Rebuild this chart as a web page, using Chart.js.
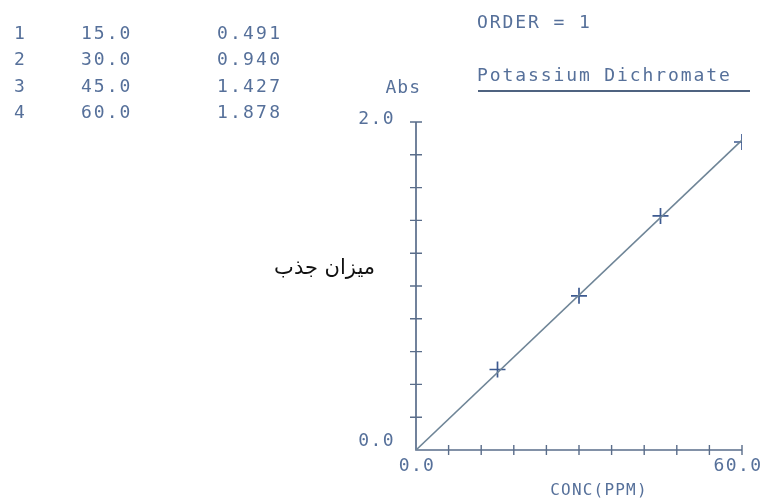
<!DOCTYPE html>
<html>
<head>
<meta charset="utf-8">
<title>Potassium Dichromate calibration</title>
<script src="https://cdn.jsdelivr.net/npm/chart.js@4/dist/chart.umd.min.js"></script>
<style>
  html, body { margin: 0; padding: 0; background: #ffffff; }
  #wrap { width: 767px; height: 503px; }
</style>
</head>
<body>
<div id="wrap"><canvas id="chart" width="767" height="503"></canvas></div>
<script>
// Standards: sample number, concentration (ppm) and measured absorbance
const sampleNumbers = ['1', '2', '3', '4'];
const concentrations = [15.0, 30.0, 45.0, 60.0];
const absorbances = [0.491, 0.940, 1.427, 1.878];

// Calibration line (first order, through the origin)
const fitConc = [0, 60];
const fitAbs = [0, 1.889];

// Axis ticks and the labelled ends
const xTickValues = [0, 6, 12, 18, 24, 30, 36, 42, 48, 54, 60];
const yTickValues = [0, 0.2, 0.4, 0.6, 0.8, 1.0, 1.2, 1.4, 1.6, 1.8, 2.0];
const xLabelValues = [0, 60];
const yLabelValues = [0, 2];

const TEXT = '#56709a';
const AXIS = '#5a6d8a';
const PLOT_FONT = '"DejaVu Sans Mono", monospace';

function drawText(ctx, str, x, y, opts) {
  ctx.save();
  ctx.font = opts.font;
  ctx.fillStyle = opts.color || TEXT;
  ctx.textAlign = opts.align || 'left';
  ctx.textBaseline = 'middle';
  if ('letterSpacing' in ctx) ctx.letterSpacing = (opts.spacing || 0) + 'px';
  ctx.fillText(str, x, y);
  ctx.restore();
}

const plotterAxes = {
  id: 'plotterAxes',
  beforeDatasetsDraw(chart) {
    const { ctx, scales: { x, y } } = chart;
    const x0 = x.getPixelForValue(0), x1 = x.getPixelForValue(60);
    const y0 = y.getPixelForValue(0), y1 = y.getPixelForValue(2);
    ctx.save();
    ctx.strokeStyle = AXIS;
    ctx.lineWidth = 1.7;
    ctx.beginPath();
    ctx.moveTo(x0, y1); ctx.lineTo(x0, y0); ctx.lineTo(x1, y0);
    ctx.stroke();
    ctx.lineWidth = 1.4;
    ctx.beginPath();
    xTickValues.forEach(v => {
      if (v === 0) return;
      const px = x.getPixelForValue(v);
      ctx.moveTo(px, y0 - 5); ctx.lineTo(px, y0 + 5);
    });
    yTickValues.forEach(v => {
      if (v === 0) return;
      const py = y.getPixelForValue(v);
      ctx.moveTo(x0 - 6, py); ctx.lineTo(x0 + 6, py);
    });
    ctx.stroke();
    ctx.restore();
  },
  afterDraw(chart) {
    const { ctx, scales: { x, y } } = chart;
    const x0 = x.getPixelForValue(0);
    const y0 = y.getPixelForValue(0);
    const f = '18px ' + PLOT_FONT;

    // axis end labels
    xLabelValues.forEach(v => {
      const px = x.getPixelForValue(v);
      drawText(ctx, v.toFixed(1), v === 0 ? px + 1 : px - 4, y0 + 16, { font: f, spacing: 1.4, align: 'center' });
    });
    yLabelValues.forEach(v => {
      const py = y.getPixelForValue(v);
      drawText(ctx, v.toFixed(1), x0 - 21, v === 0 ? py - 9 : py - 3, { font: f, spacing: 1.4, align: 'right' });
    });

    // axis titles
    drawText(ctx, 'Abs', x0 + 5, 88, { font: f, spacing: 1 , align: 'right' });
    drawText(ctx, 'CONC(PPM)', (x.getPixelForValue(0) + x.getPixelForValue(60)) / 2 + 20, 491,
             { font: '16px ' + PLOT_FONT, spacing: 1.2, align: 'center' });
    drawText(ctx, 'میزان جذب', 375, 269,
             { font: '21px "DejaVu Sans", sans-serif', color: '#111111', align: 'right' });

    // header
    drawText(ctx, 'ORDER = 1', 477, 23, { font: f, spacing: 1.9 });
    drawText(ctx, 'Potassium Dichromate', 477, 76, { font: f, spacing: 1.9 });
    ctx.save();
    ctx.strokeStyle = '#4f6380';
    ctx.lineWidth = 1.8;
    ctx.beginPath();
    ctx.moveTo(478, 91); ctx.lineTo(750, 91);
    ctx.stroke();
    ctx.restore();

    // data table
    sampleNumbers.forEach((n, i) => {
      const ty = 34 + i * 26.5;
      drawText(ctx, n, 14, ty, { font: f, spacing: 2 });
      drawText(ctx, concentrations[i].toFixed(1), 81, ty, { font: f, spacing: 2 });
      drawText(ctx, absorbances[i].toFixed(3), 217, ty, { font: f, spacing: 2.2 });
    });
  }
};

new Chart(document.getElementById('chart'), {
  type: 'scatter',
  data: {
    datasets: [
      {
        type: 'line',
        data: fitConc.map((c, i) => ({ x: c, y: fitAbs[i] })),
        borderColor: '#6f8597',
        borderWidth: 1.6,
        pointRadius: 0,
        fill: false,
        tension: 0
      },
      {
        data: concentrations.map((c, i) => ({ x: c, y: absorbances[i] })),
        pointStyle: 'cross',
        pointRadius: 8,
        borderColor: '#3d5a90',
        borderWidth: 1.7,
        showLine: false
      }
    ]
  },
  options: {
    responsive: false,
    animation: false,
    devicePixelRatio: 1,
    layout: { padding: { left: 416, right: 25, top: 122, bottom: 53 } },
    scales: {
      x: { type: 'linear', min: 0, max: 60, display: false },
      y: { type: 'linear', min: 0, max: 2, display: false }
    },
    plugins: { legend: { display: false }, tooltip: { enabled: false } }
  },
  plugins: [plotterAxes]
});
</script>
</body>
</html>
